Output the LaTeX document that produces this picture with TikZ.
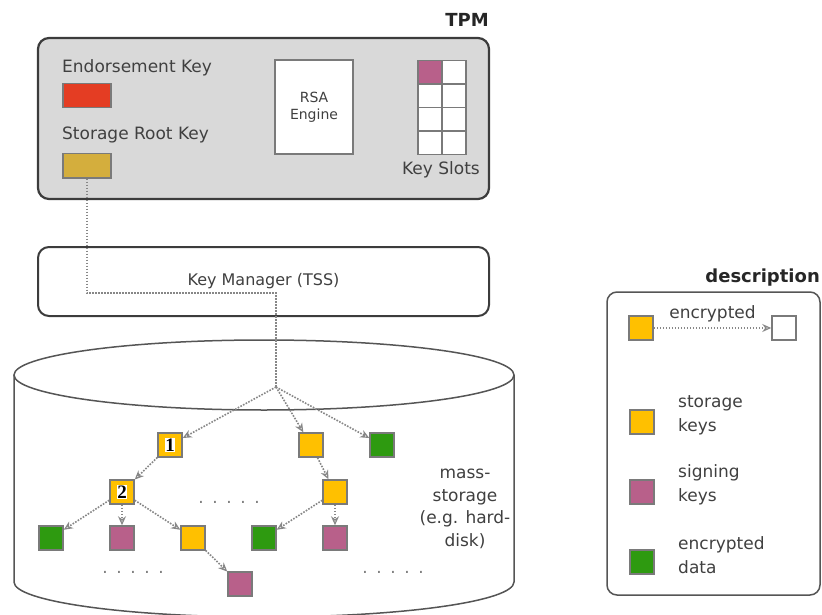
\documentclass[tikz,border=0pt]{standalone}
\usepackage{fontspec}
\setmainfont{DejaVu Sans}
\newfontfamily\numfont{Liberation Serif}
\usetikzlibrary{arrows.meta, positioning}
\definecolor{cstore}{HTML}{FFC000}
\definecolor{csign}{HTML}{B8608A}
\definecolor{cdata}{HTML}{2E9A10}
\definecolor{cek}{HTML}{E43D23}
\definecolor{csrk}{HTML}{D4AE3D}
\definecolor{cedge}{HTML}{7A7A7A}
\definecolor{cframe}{HTML}{3C3C3C}
\definecolor{ctext}{HTML}{404040}
\definecolor{cchip}{HTML}{D9D9D9}
\newcommand{\numbox}[1]{{\setlength{\fboxsep}{0.6pt}\colorbox{white}{\numfont\bfseries\fontsize{19}{19}\selectfont #1}}}
\newcommand{\dotrow}{.\hskip8.6pt.\hskip8.6pt.\hskip8.6pt.\hskip8.6pt.}
\tikzset{
  lbl/.style={font=\fontsize{17}{24}\selectfont, text=ctext, align=left, inner sep=0pt},
  heading/.style={font=\bfseries\fontsize{18}{22}\selectfont, text=black!85, inner sep=0pt},
  keysq/.style={draw=cedge, fill=#1, line width=1.5pt, minimum size=24pt, inner sep=0pt},
  keysq/.default=white,
  frame/.style={draw=cframe, rounded corners=11pt, inner sep=0pt},
  link/.style={draw=cedge!90, line width=1.6pt, dash pattern=on 1.6pt off 1.4pt},
  enc/.style={link, -{Stealth[open, length=9pt, width=8pt, line width=1.2pt]}},
  dotrow/.style={font=\fontsize{17}{17}\selectfont, text=cedge, inner sep=0pt, anchor=base},
}

\begin{document}
\begin{tikzpicture}[x=1pt, y=-1pt]
  \useasboundingbox (0,0) rectangle (822,615);

  % the chip
  \node[heading, anchor=east] (tpmtitle) at (489,20) {TPM};
  \node[frame, fill=cchip, line width=2.2pt, minimum width=451pt, minimum height=161pt] (tpm) at (263.5,118.5) {};
  \node[lbl, anchor=west] (eklbl) at (62,68) {Endorsement Key};
  \node[keysq=cek, minimum width=48pt, minimum height=24pt, anchor=north west] (ek) at (62,83) {};
  \node[lbl, anchor=west] (srklbl) at (62,135) {Storage Root Key};
  \node[keysq=csrk, minimum width=48pt, minimum height=24pt, anchor=north west] (srk) at (62,153) {};
  \node[draw=cedge, fill=white, line width=1.5pt, minimum width=78pt, minimum height=94pt, align=center,
        font=\fontsize{14}{17}\selectfont, text=ctext] (rsa) at (314,107) {RSA\\Engine};
  \foreach \r in {0,...,3}
    \foreach \c in {0,1}
      \node[keysq, minimum width=24pt, minimum height=23.5pt, anchor=north west] (slot-\r-\c) at (417+24*\c,60+23.5*\r) {};
  \node[keysq=csign, minimum width=24pt, minimum height=23.5pt, anchor=north west] (used) at (417,60) {};
  \node[lbl] (slotlbl) at (441,170) {Key Slots};

  % software stack
  \node[frame, fill=white, line width=2pt, minimum width=451pt, minimum height=69pt,
        font=\fontsize{16}{20}\selectfont, text=ctext] (tss) at (263.5,281.5) {Key Manager (TSS)};

  % disk
  \draw[draw=cedge!70!black, line width=1.5pt, fill=white] (14,375) -- (14,582)
    arc[start angle=180, end angle=0, x radius=250, y radius=35] -- (514,375);
  \draw[draw=cedge!70!black, line width=1.5pt, fill=white] (264,375) ellipse[x radius=250, y radius=35];
  \node[lbl, align=center, font=\fontsize{17}{22.7}\selectfont] (disklbl) at (465,509) {mass-\\storage\\(e.g. hard-\\disk)};

  \coordinate (turn) at (276,293);
  \coordinate (apex) at (276,387);
  \draw[link] (srk.south) |- (turn) -- (apex);

  % key hierarchy
  \node[keysq=cstore] (sk1) at (170,445) {\numbox{1}};
  \node[keysq=cstore] (sk2) at (122,492) {\numbox{2}};
  \node[keysq=cstore] (skA) at (311,445) {};
  \node[keysq=cdata] (dtA) at (382,445) {};
  \node[keysq=cstore] (skB) at (335,492) {};
  \foreach \nm/\x/\c in {dt1/51/cdata, sg1/122/csign, sk3/193/cstore, dt2/264/cdata, sg2/335/csign}
    \node[keysq=\c] (\nm) at (\x,538) {};
  \node[keysq=csign] (sg3) at (240,584) {};

  \draw[enc] (apex) -- (sk1);
  \draw[enc] (apex) -- (skA);
  \draw[enc] (apex) -- (dtA);
  \draw[enc] (sk1) -- (sk2);
  \draw[enc] (sk2) -- (dt1);
  \draw[enc] (sk2) -- (sg1);
  \draw[enc] (sk2) -- (sk3);
  \draw[enc] (skA) -- (skB);
  \draw[enc] (skB) -- (dt2);
  \draw[enc] (skB) -- (sg2);
  \draw[enc] (sk3) -- (sg3);

  \node[dotrow] (gapmid) at (229,503) {\dotrow};
  \node[dotrow] (gapleft) at (133,573) {\dotrow};
  \node[dotrow] (gapright) at (393,573) {\dotrow};

  % legend
  \node[heading, anchor=east] (desctitle) at (820,278) {description};
  \node[frame, rounded corners=10pt, line width=1.5pt, draw=cedge!70!black, minimum width=213pt, minimum height=303pt] (legend) at (713.5,443.5) {};
  \node[keysq=cstore] (lgsrc) at (641,328) {};
  \node[keysq] (lgdst) at (784,328) {};
  \draw[enc] (lgsrc) -- node[lbl, above=5pt] (enclbl) {encrypted} (lgdst);
  \node[keysq=cstore] (lgsk) at (642,422) {};
  \node[lbl, anchor=west] (lgsklbl) at (678,415) {storage\\keys};
  \node[keysq=csign] (lgsg) at (642,492) {};
  \node[lbl, anchor=west] (lgsglbl) at (678,485) {signing\\keys};
  \node[keysq=cdata] (lgdt) at (642,562) {};
  \node[lbl, anchor=west] (lgdtlbl) at (678,555) {encrypted\\data};
\end{tikzpicture}
\end{document}
